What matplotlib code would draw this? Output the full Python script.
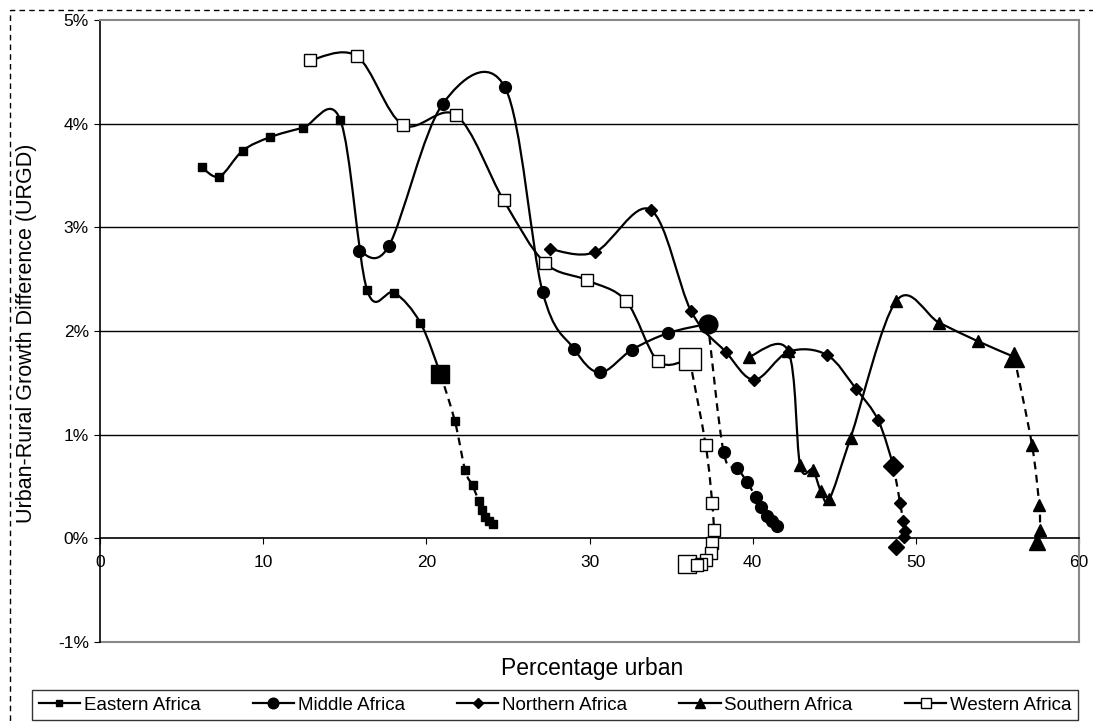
import matplotlib
matplotlib.use("Agg")
import matplotlib.pyplot as plt
from matplotlib.path import Path
from matplotlib.patches import PathPatch
from matplotlib.lines import Line2D
from matplotlib.ticker import FuncFormatter
import numpy as np

plt.rcParams["font.family"] = ["Liberation Sans", "DejaVu Sans"]

regions = ["Eastern Africa", "Middle Africa", "Northern Africa", "Southern Africa", "Western Africa"]

# observed part (solid line)
east_x = [6.24, 7.32, 8.75, 10.43, 12.43, 14.72, 16.36, 18.04, 19.63, 20.86]
east_y = [3.58, 3.49, 3.74, 3.87, 3.96, 4.04, 2.40, 2.37, 2.08, 1.59]
mid_x = [15.85, 17.70, 21.00, 24.82, 27.12, 29.04, 30.64, 32.61, 34.82, 37.26]
mid_y = [2.77, 2.82, 4.19, 4.35, 2.38, 1.83, 1.60, 1.82, 1.98, 2.07]
north_x = [27.57, 30.33, 33.74, 36.23, 38.34, 40.10, 42.20, 44.54, 46.34, 47.69, 48.63]
north_y = [2.79, 2.76, 3.17, 2.19, 1.80, 1.53, 1.80, 1.77, 1.44, 1.14, 0.70]
south_x = [39.77, 42.17, 42.90, 43.68, 44.17, 44.70, 46.00, 48.80, 51.43, 53.82, 56.03]
south_y = [1.75, 1.81, 0.71, 0.66, 0.46, 0.38, 0.97, 2.29, 2.08, 1.90, 1.75]
west_x = [12.84, 15.75, 18.55, 21.84, 24.74, 27.25, 29.85, 32.24, 34.19, 36.13]
west_y = [4.61, 4.65, 3.99, 4.08, 3.26, 2.66, 2.49, 2.29, 1.71, 1.73]

# projected part (dashed line)
east_px = [20.86, 21.75, 22.38, 22.83, 23.21, 23.42, 23.62, 23.82, 24.10]
east_py = [1.59, 1.13, 0.655, 0.51, 0.36, 0.27, 0.21, 0.17, 0.14]
mid_px = [37.26, 38.22, 39.05, 39.67, 40.18, 40.53, 40.90, 41.20, 41.52]
mid_py = [2.07, 0.83, 0.68, 0.54, 0.40, 0.30, 0.22, 0.17, 0.12]
north_px = [48.63, 49.04, 49.22, 49.34, 49.28, 48.80]
north_py = [0.70, 0.34, 0.17, 0.07, 0.01, -0.08]
south_px = [56.03, 57.12, 57.56, 57.60, 57.42]
south_py = [1.75, 0.90, 0.32, 0.08, -0.04]
west_px = [36.13, 37.12, 37.52, 37.62, 37.52, 37.42, 37.12, 36.85, 36.60, 35.99]
west_py = [1.73, 0.90, 0.34, 0.08, -0.045, -0.14, -0.205, -0.25, -0.26, -0.25]

obs = [(east_x, east_y), (mid_x, mid_y), (north_x, north_y), (south_x, south_y), (west_x, west_y)]
proj = [(east_px, east_py), (mid_px, mid_py), (north_px, north_py), (south_px, south_py), (west_px, west_py)]

# marker style, size, big size, big marker on last projected point
styles = [
    dict(marker="s", ms=5.5, big=13, face="black", last_big=False),
    dict(marker="o", ms=8.5, big=13.5, face="black", last_big=False),
    dict(marker="D", ms=6, big=10.5, face="black", last_big=True),
    dict(marker="^", ms=8.5, big=14, face="black", last_big=True),
    dict(marker="s", ms=8, big=15.5, face="white", last_big=True),
]


def smooth_path(xs, ys):
    # Excel-like smoothed line: cubic Bezier segments (Catmull-Rom, tension 1/6)
    p = np.column_stack([xs, ys]).astype(float)
    n = len(p)
    verts = [p[0]]
    codes = [Path.MOVETO]
    for i in range(n - 1):
        p0 = p[i - 1] if i > 0 else p[i]
        p3 = p[i + 2] if i + 2 < n else p[i + 1]
        c1 = p[i] + (p[i + 1] - p0) / 6.0
        c2 = p[i + 1] - (p3 - p[i]) / 6.0
        verts += [c1, c2, p[i + 1]]
        codes += [Path.CURVE4] * 3
    return Path(verts, codes)


fig = plt.figure(figsize=(10.93, 7.25), dpi=100)
ax = fig.add_axes([100 / 1093, 1 - 642 / 725, 979 / 1093, 622 / 725])

for k in range(1, 5):
    ax.axhline(k, color="black", lw=1.0, zorder=1)
ax.axhline(-1, color="#888888", lw=1.5, zorder=1, clip_on=False)

for (ox, oy), (px, py), st in zip(obs, proj, styles):
    ax.add_patch(PathPatch(smooth_path(ox, oy), fill=False, color="black", lw=1.6, zorder=3))
    ax.add_patch(PathPatch(smooth_path(px, py), fill=False, color="black", lw=1.6,
                           linestyle=(0, (3.5, 2.5)), zorder=3))
    ax.plot(ox[:-1], oy[:-1], linestyle="none", marker=st["marker"], ms=st["ms"],
            mfc=st["face"], mec="black", mew=1.0, zorder=4)
    if st["last_big"]:
        small_x, small_y = px[1:-1], py[1:-1]
        ax.plot(px[-1:], py[-1:], linestyle="none", marker=st["marker"], ms=st["big"] * 0.8,
                mfc=st["face"], mec="black", mew=1.0, zorder=4, clip_on=False)
    else:
        small_x, small_y = px[1:], py[1:]
    ax.plot(small_x, small_y, linestyle="none", marker=st["marker"], ms=st["ms"],
            mfc=st["face"], mec="black", mew=1.0, zorder=4, clip_on=False)
    ax.plot(px[:1], py[:1], linestyle="none", marker=st["marker"], ms=st["big"],
            mfc=st["face"], mec="black", mew=1.0, zorder=5)

ax.set_xlim(0, 60)
ax.set_ylim(-1, 5)
ax.set_xticks(range(0, 61, 10))
ax.set_yticks(range(-1, 6))
ax.yaxis.set_major_formatter(FuncFormatter(lambda v, p: "%d%%" % v))
ax.spines["bottom"].set_position(("data", 0))
ax.spines["bottom"].set_linewidth(1.2)
ax.spines["left"].set_linewidth(1.2)
for s in ["top", "right"]:
    ax.spines[s].set_color("#888888")
    ax.spines[s].set_linewidth(1.5)
ax.tick_params(axis="x", direction="out", length=4, labelsize=12.5, pad=8)
ax.tick_params(axis="y", direction="out", length=4, labelsize=12.5, pad=4)
ax.set_facecolor("white")

fig.text(592 / 1093, 1 - 668 / 725, "Percentage urban", ha="center", va="center", fontsize=16.5)
fig.text(27 / 1093, 1 - 333 / 725, "Urban-Rural Growth Difference (URGD)", ha="center", va="center",
         rotation=90, fontsize=15.5)

handles = [Line2D([], [], color="black", lw=1.6, marker=st["marker"], ms=st["ms"] * 0.9,
                  mfc=st["face"], mec="black") for st in styles]
fig.legend(handles, regions, loc="center", ncol=5, mode="expand",
           bbox_to_anchor=(32 / 1093, 1 - 721 / 725, 1046 / 1093, 32 / 725),
           frameon=True, fancybox=False, edgecolor="black", fontsize=13.5,
           handlelength=2.2, handletextpad=0.2, borderaxespad=0, borderpad=0.35)

# dashed outer chart border
fig.patches.append(plt.Rectangle((10 / 1093, -0.05), 1.2, 1 - 10 / 725 + 0.05, transform=fig.transFigure,
                                 fill=False, ls=(0, (4, 3)), lw=1.0, ec="black"))

fig.savefig("out.png", dpi=100)
